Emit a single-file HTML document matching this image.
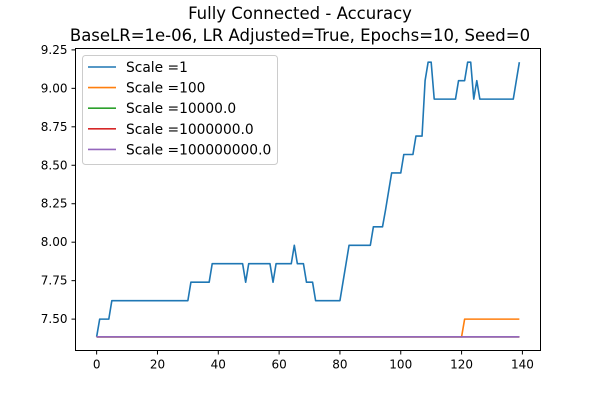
<!DOCTYPE html>
<html><head><meta charset="utf-8"><style>
html,body{margin:0;padding:0;background:#fff;}
svg{display:block;font-family:"DejaVu Sans","Liberation Sans",sans-serif;}
</style></head><body>
<svg id="chart" width="600" height="400" viewBox="0 0 600 400">
<text x="300" y="19" text-anchor="middle" font-size="16.5">Fully Connected - Accuracy</text>
<text x="300" y="41" text-anchor="middle" font-size="16.5">BaseLR=1e-06, LR Adjusted=True, Epochs=10, Seed=0</text>
<g id="ticks"></g>
<g id="series"></g>
<rect x="75.5" y="48.5" width="465" height="302" fill="none" stroke="#000" stroke-width="1"/>
<g id="legend"></g>
</svg>
<script>
const xTicks=[0,20,40,60,80,100,120,140];
const yTicks=[7.50,7.75,8.00,8.25,8.50,8.75,9.00,9.25];
const yTickLabels=["7.50","7.75","8.00","8.25","8.50","8.75","9.00","9.25"];
const seriesNames=["Scale =1","Scale =100","Scale =10000.0","Scale =1000000.0","Scale =100000000.0"];
const seriesColors=["#1f77b4","#ff7f0e","#2ca02c","#d62728","#9467bd"];
const scale1=[7.385,7.50,7.50,7.50,7.50,
7.62,7.62,7.62,7.62,7.62,7.62,7.62,7.62,7.62,7.62,7.62,7.62,7.62,7.62,7.62,7.62,7.62,7.62,7.62,7.62,7.62,7.62,7.62,7.62,7.62,7.62,
7.74,7.74,7.74,7.74,7.74,7.74,7.74,
7.86,7.86,7.86,7.86,7.86,7.86,7.86,7.86,7.86,7.86,7.86,
7.74,
7.86,7.86,7.86,7.86,7.86,7.86,7.86,7.86,
7.74,
7.86,7.86,7.86,7.86,7.86,7.86,
7.98,
7.86,7.86,7.86,
7.74,7.74,7.74,
7.62,7.62,7.62,7.62,7.62,7.62,7.62,7.62,7.62,
7.74,7.86,
7.98,7.98,7.98,7.98,7.98,7.98,7.98,7.98,
8.10,8.10,8.10,8.10,
8.21,8.33,
8.45,8.45,8.45,8.45,
8.57,8.57,8.57,8.57,
8.69,8.69,8.69,
9.05,
9.17,9.17,
8.93,8.93,8.93,8.93,8.93,8.93,8.93,8.93,
9.05,9.05,9.05,
9.17,9.17,
8.93,9.05,
8.93,8.93,8.93,8.93,8.93,8.93,8.93,8.93,8.93,8.93,8.93,8.93,
9.05,9.17];
const scale100=[7.385,7.385,7.385,7.385,7.385,7.385,7.385,7.385,7.385,7.385,
7.385,7.385,7.385,7.385,7.385,7.385,7.385,7.385,7.385,7.385,
7.385,7.385,7.385,7.385,7.385,7.385,7.385,7.385,7.385,7.385,
7.385,7.385,7.385,7.385,7.385,7.385,7.385,7.385,7.385,7.385,
7.385,7.385,7.385,7.385,7.385,7.385,7.385,7.385,7.385,7.385,
7.385,7.385,7.385,7.385,7.385,7.385,7.385,7.385,7.385,7.385,
7.385,7.385,7.385,7.385,7.385,7.385,7.385,7.385,7.385,7.385,
7.385,7.385,7.385,7.385,7.385,7.385,7.385,7.385,7.385,7.385,
7.385,7.385,7.385,7.385,7.385,7.385,7.385,7.385,7.385,7.385,
7.385,7.385,7.385,7.385,7.385,7.385,7.385,7.385,7.385,7.385,
7.385,7.385,7.385,7.385,7.385,7.385,7.385,7.385,7.385,7.385,
7.385,7.385,7.385,7.385,7.385,7.385,7.385,7.385,7.385,7.385,
7.385,7.50,7.50,7.50,7.50,7.50,7.50,7.50,7.50,7.50,
7.50,7.50,7.50,7.50,7.50,7.50,7.50,7.50,7.50,7.50];
const flatRow=[7.385,7.385,7.385,7.385,7.385,7.385,7.385,7.385,7.385,7.385];
const scale1e4=[].concat(flatRow,flatRow,flatRow,flatRow,flatRow,flatRow,flatRow,flatRow,flatRow,flatRow,flatRow,flatRow,flatRow,flatRow);
const scale1e6=[].concat(flatRow,flatRow,flatRow,flatRow,flatRow,flatRow,flatRow,flatRow,flatRow,flatRow,flatRow,flatRow,flatRow,flatRow);
const scale1e8=[].concat(flatRow,flatRow,flatRow,flatRow,flatRow,flatRow,flatRow,flatRow,flatRow,flatRow,flatRow,flatRow,flatRow,flatRow);
const allSeries=[scale1,scale100,scale1e4,scale1e6,scale1e8];

const NS="http://www.w3.org/2000/svg";
const X0=75.5,X1=540.5,Y0=48.5,Y1=350.5;
const xMin=-6.95,xMax=145.95,yMin=7.296,yMax=9.259;
function xs(v){return X0+(v-xMin)/(xMax-xMin)*(X1-X0);}
function ys(v){return Y1-(v-yMin)/(yMax-yMin)*(Y1-Y0);}
function mk(tag,attrs,parent){const e=document.createElementNS(NS,tag);for(const k in attrs)e.setAttribute(k,attrs[k]);parent.appendChild(e);return e;}
const tg=document.getElementById('ticks');
xTicks.forEach(t=>{const x=xs(t);
 const l=mk('line',{x1:x,x2:x,y1:Y1,y2:Y1+4,stroke:'#000'},tg);
 
 
 const tx=mk('text',{x:x,y:Y1+18,'text-anchor':'middle','font-size':'12'},tg);tx.textContent=t;
 
 
});
yTicks.forEach((t,i)=>{const y=ys(t);
 const l=mk('line',{x1:X0-4,x2:X0,y1:y,y2:y,stroke:'#000'},tg);
 
 
 const tx=mk('text',{x:X0-8,y:y+4,'text-anchor':'end','font-size':'12'},tg);tx.textContent=yTickLabels[i];
 
 
});
const sg=document.getElementById('series');
allSeries.forEach((s,si)=>{
 const pts=s.map((v,i)=>xs(i).toFixed(2)+','+ys(v).toFixed(2)).join(' ');
 const p=mk('polyline',{points:pts,fill:'none',stroke:seriesColors[si],'stroke-width':'1.6','stroke-linejoin':'round'},sg);
 
 
});
const lg=document.getElementById('legend');
const box=mk('rect',{x:82.5,y:55.5,width:195,height:109,rx:3,fill:'#fff','fill-opacity':'0.8',stroke:'#ccc'},lg);


seriesNames.forEach((n,i)=>{const y=67+i*20.6;
 const l=mk('line',{x1:88,x2:116,y1:y,y2:y,stroke:seriesColors[i],'stroke-width':'1.6'},lg);
 
 
 const t=mk('text',{x:126,y:y+5,'font-size':'13.8'},lg);t.textContent=n;
 
 
});
</script>
</body></html>
